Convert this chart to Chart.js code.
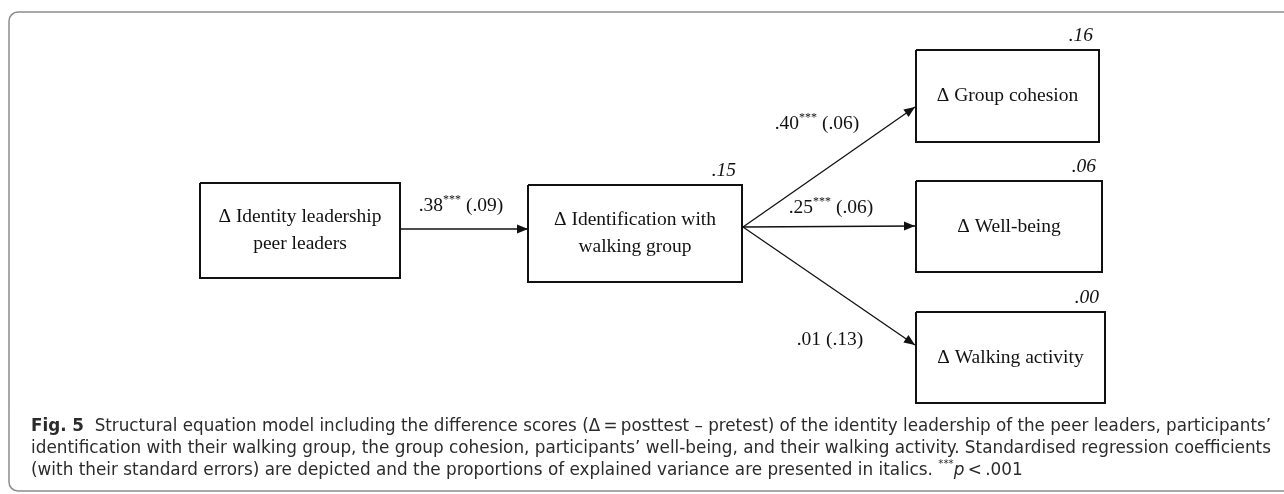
<!DOCTYPE html>
<html>
<head>
<meta charset="utf-8">
<script src="https://cdn.jsdelivr.net/npm/chart.js@4.4.1/dist/chart.umd.min.js"></script>
<style>
  html, body { margin: 0; padding: 0; background: #fff; }
  canvas { display: block; }
</style>
</head>
<body>
<canvas id="semChart" width="1284" height="494"></canvas>
<script>
// model variables (| = line break) and explained variance (R²)
const variables = ['Δ Identity leadership|peer leaders', 'Δ Identification with|walking group', 'Δ Group cohesion', 'Δ Well-being', 'Δ Walking activity'];
const explainedVariance = [null, '.15', '.16', '.06', '.00'];

// paths: standardised coefficients with standard errors
const pathFrom = [0, 1, 1, 1];
const pathTo = [1, 2, 3, 4];
const pathCoef = ['.38', '.40', '.25', '.01'];
const pathSig = ['***', '***', '***', ''];
const pathSE = ['.09', '.06', '.06', '.13'];

const captionLines = [
    [['Fig. 5', 'bold'], ['  Structural equation model including the difference scores (Δ\u2009=\u2009posttest – pretest) of the identity leadership of the peer leaders, participants’', 'normal']],
    [['identification with their walking group, the group cohesion, participants’ well-being, and their walking activity. Standardised regression coefficients', 'normal']],
    [['(with their standard errors) are depicted and the proportions of explained variance are presented in italics. ', 'normal'], ['***', 'sup'], ['p', 'italic'], ['\u2009<\u2009.001', 'normal']]
];

// layout (diagram units == pixels on the 1284x494 canvas)
const boxLayout = [
    { x0: 200, y0: 183, x1: 400, y1: 278 },
    { x0: 528, y0: 185, x1: 742, y1: 282 },
    { x0: 916, y0: 50, x1: 1099, y1: 142 },
    { x0: 916, y0: 181, x1: 1102, y1: 272 },
    { x0: 916, y0: 312, x1: 1105, y1: 403 }
];
const pathLayout = [
    { start: [400, 229], end: [528, 229], label: [461, 205] },
    { start: [743, 227], end: [915, 107], label: [817, 123] },
    { start: [743, 227], end: [915, 226], label: [831, 207] },
    { start: [743, 227], end: [915, 345], label: [830, 339] }
];

const serif = '"Liberation Serif", "Times New Roman", serif';
const narrow = '"Liberation Sans Narrow", "DejaVu Sans Condensed", sans-serif';

const datasets = [];
boxLayout.forEach((b, i) => {
    datasets.push({
        label: variables[i].replace('|', ' '),
        data: [{ x: b.x0, y: b.y0 }, { x: b.x1, y: b.y0 }, { x: b.x1, y: b.y1 }, { x: b.x0, y: b.y1 }, { x: b.x0, y: b.y0 }],
        showLine: true,
        borderColor: '#111',
        borderWidth: 2,
        borderJoinStyle: 'miter',
        pointRadius: 0,
        fill: false,
        kind: 'box'
    });
});
pathLayout.forEach((p, i) => {
    datasets.push({
        label: variables[pathFrom[i]] + ' -> ' + variables[pathTo[i]],
        data: [{ x: p.start[0], y: p.start[1] }, { x: p.end[0], y: p.end[1] }],
        showLine: true,
        borderColor: '#111',
        borderWidth: 1.3,
        pointRadius: 0,
        fill: false,
        kind: 'path',
        pathIndex: i
    });
});

function drawRuns(ctx, runs, x, y, big, small) {
    let cx = x;
    runs.forEach(([text, style]) => {
        if (style === 'sup') {
            ctx.font = small;
            ctx.fillText(text, cx, y - 8);
        } else {
            ctx.font = style === 'normal' ? big : style + ' ' + big;
            ctx.fillText(text, cx, y);
        }
        cx += ctx.measureText(text).width;
    });
    return cx - x;
}
function measureRuns(ctx, runs, big, small) {
    let w = 0;
    runs.forEach(([text, style]) => {
        if (style === 'sup') ctx.font = small;
        else ctx.font = style === 'normal' ? big : style + ' ' + big;
        w += ctx.measureText(text).width;
    });
    return w;
}

const diagramPlugin = {
    id: 'diagram',
    beforeDraw(chart) {
        const { ctx, scales: { x, y } } = chart;
        ctx.save();
        ctx.strokeStyle = '#8c8c8c';
        ctx.lineWidth = 1.5;
        ctx.beginPath();
        const fx = x.getPixelForValue(9), fy = y.getPixelForValue(12);
        ctx.roundRect(fx, fy, x.getPixelForValue(1300) - fx, y.getPixelForValue(491) - fy, 9);
        ctx.stroke();
        ctx.restore();
    },
    afterDatasetsDraw(chart) {
        const { ctx, scales: { x, y } } = chart;
        ctx.save();
        ctx.fillStyle = '#111';

        // arrowheads
        chart.data.datasets.forEach((ds, di) => {
            if (ds.kind !== 'path') return;
            const pts = chart.getDatasetMeta(di).data;
            const a = pts[0], b = pts[1];
            const ang = Math.atan2(b.y - a.y, b.x - a.x);
            const len = 11, half = 4.5;
            ctx.beginPath();
            ctx.moveTo(b.x, b.y);
            ctx.lineTo(b.x - len * Math.cos(ang) + half * Math.sin(ang), b.y - len * Math.sin(ang) - half * Math.cos(ang));
            ctx.lineTo(b.x - len * Math.cos(ang) - half * Math.sin(ang), b.y - len * Math.sin(ang) + half * Math.cos(ang));
            ctx.closePath();
            ctx.fill();
        });

        // box labels
        ctx.textAlign = 'center';
        ctx.textBaseline = 'middle';
        ctx.font = '19.5px ' + serif;
        boxLayout.forEach((b, i) => {
            const lines = variables[i].split('|');
            const cx = x.getPixelForValue((b.x0 + b.x1) / 2);
            const cy = y.getPixelForValue((b.y0 + b.y1) / 2);
            const gap = 27;
            lines.forEach((t, k) => {
                ctx.fillText(t, cx, cy + (k - (lines.length - 1) / 2) * gap);
            });
        });

        // explained variance
        ctx.textAlign = 'right';
        ctx.textBaseline = 'alphabetic';
        ctx.font = 'italic 19.5px ' + serif;
        boxLayout.forEach((b, i) => {
            if (!explainedVariance[i]) return;
            ctx.fillText(explainedVariance[i], x.getPixelForValue(b.x1 - 6), y.getPixelForValue(b.y0 - 9));
        });

        // path coefficients
        ctx.textAlign = 'left';
        const big = '19.5px ' + serif, small = '12px ' + serif;
        pathLayout.forEach((p, i) => {
            const runs = [[pathCoef[i], 'normal']];
            if (pathSig[i]) runs.push([pathSig[i], 'sup']);
            runs.push([' (' + pathSE[i] + ')', 'normal']);
            const w = measureRuns(ctx, runs, big, small);
            drawRuns(ctx, runs, x.getPixelForValue(p.label[0]) - w / 2, y.getPixelForValue(p.label[1]) + 6, big, small);
        });

        // caption
        ctx.fillStyle = '#2b2b2b';
        const cBig = '18px ' + narrow, cSmall = '11px ' + narrow;
        const left = 31, right = 1271;
        const widths = captionLines.map(l => measureRuns(ctx, l, cBig, cSmall));
        const s = (right - left) / widths[1];
        captionLines.forEach((runs, k) => {
            const sx = k === 0 ? (right - left) / widths[0] : s;
            ctx.save();
            ctx.translate(left, 431 + k * 22);
            ctx.scale(sx, 1);
            drawRuns(ctx, runs, 0, 0, cBig, cSmall);
            ctx.restore();
        });
        ctx.restore();
    }
};

new Chart(document.getElementById('semChart'), {
    type: 'scatter',
    data: { datasets: datasets },
    options: {
        responsive: false,
        animation: false,
        layout: { padding: 0 },
        scales: {
            x: { type: 'linear', display: false, min: 0, max: 1284 },
            y: { type: 'linear', display: false, min: 0, max: 494, reverse: true }
        },
        plugins: {
            legend: { display: false },
            tooltip: { enabled: false }
        }
    },
    plugins: [diagramPlugin]
});
</script>
</body>
</html>
